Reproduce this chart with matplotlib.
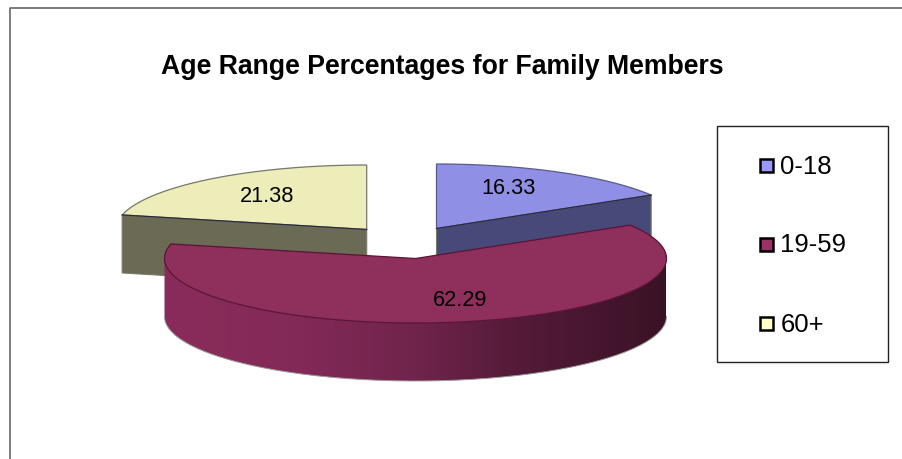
import numpy as np
import matplotlib
matplotlib.use('Agg')
import matplotlib.pyplot as plt
from matplotlib.patches import Polygon, Rectangle

plt.rcParams['font.family'] = ['Liberation Sans', 'DejaVu Sans']

# data
labels = ['0-18', '19-59', '60+']
values = [16.33, 62.29, 21.38]
value_text = ['16.33', '62.29', '21.38']

top_colors = ['#8f8fe6', '#8e2f5c', '#ecedb9']
side_colors = ['#474a78', '#5a1d3c', '#6b6b55']
edge_colors = ['#5a5a8c', '#5a1436', '#77776a']
legend_colors = ['#9999ff', '#993366', '#ffffcc']

# pie layout, in pixels
centers = [(436.5, 228.5), (415.5, 258.5), (366.7, 229.5)]
rx, ry = 251, 64.5
depth = 58
label_pos = [(508.5, 188.5), (460, 301), (267.5, 196)]

fig = plt.figure(figsize=(9.03, 4.59), dpi=100)
ax = fig.add_axes([0, 0, 1, 1])
ax.set_xlim(0, 903)
ax.set_ylim(459, 0)
ax.axis('off')

# outer frame, only left and top are inside the picture
ax.plot([10.5, 10.5, 903], [459, 8, 8], color='#666666', lw=1.2)


def arc(cx, cy, a0, a1):
    # angles clockwise from 12 o'clock, in degrees
    t = np.radians(np.linspace(a0, a1, 200))
    return np.column_stack([cx + rx * np.sin(t), cy - ry * np.cos(t)])


# wedge angles come from the values
ends = np.cumsum(values) / np.sum(values) * 360
starts = np.r_[0, ends[:-1]]


def cut_face(i, a):
    cx, cy = centers[i]
    tip = arc(cx, cy, a, a)[0]
    pts = [tip, (cx, cy), (cx, cy + depth), (tip[0], tip[1] + depth)]
    ax.add_patch(Polygon(pts, fc=side_colors[i], ec='#77776a', lw=0.8, zorder=2))
    # dark seam between the top and the cut face
    ax.plot([tip[0], cx], [tip[1], cy], color='#2a2a3a', lw=0.9, zorder=4)


def top_face(i, z):
    cx, cy = centers[i]
    pts = np.vstack([[(cx, cy)], arc(cx, cy, starts[i], ends[i])])
    ax.add_patch(Polygon(pts, fc=top_colors[i], ec=edge_colors[i], lw=0.9, zorder=z))


# back wedges
cut_face(0, ends[0])
cut_face(2, starts[2])
top_face(0, 3)
top_face(2, 3)

# front wedge outer wall with a horizontal shade
cx, cy = centers[1]
upper = arc(cx, cy, 90, 270)
lower = upper[::-1] + [0, depth]
wall = Polygon(np.vstack([upper, lower]), fc='none', ec='none', zorder=5)
ax.add_patch(wall)
ramp_x = [0.0, 0.25, 0.5, 0.7, 1.0]
ramp_r = [0x8a, 0x84, 0x70, 0x55, 0x3a]
ramp_g = [0x2c, 0x2a, 0x24, 0x1b, 0x12]
ramp_b = [0x5b, 0x58, 0x4c, 0x38, 0x26]
xs = np.linspace(0, 1, 256)
shade = np.column_stack([np.interp(xs, ramp_x, ramp_r),
                         np.interp(xs, ramp_x, ramp_g),
                         np.interp(xs, ramp_x, ramp_b)]) / 255
im = ax.imshow(shade[None, :, :], extent=[cx - rx, cx + rx, cy + ry + depth + 2, cy - 10],
               aspect='auto', zorder=5)
im.set_clip_path(wall)
ax.set_xlim(0, 903)
ax.set_ylim(459, 0)
ax.plot(lower[:, 0], lower[:, 1], color='#999999', lw=0.7, zorder=6)
top_face(1, 7)

# value labels
for t, (x, y) in zip(value_text, label_pos):
    ax.text(x, y, t, fontsize=15.7, ha='center', va='center', color='black', zorder=8)

ax.text(442, 67, 'Age Range Percentages for Family Members', fontsize=19.2,
        fontweight='bold', ha='center', va='center')

# legend
ax.add_patch(Rectangle((717, 125.5), 171, 236.5, fc='white', ec='#222222', lw=1.0, zorder=2))
for lab, c, y in zip(labels, legend_colors, [165, 244, 323]):
    ax.add_patch(Rectangle((760, y - 6.5), 13, 13, fc=c, ec='black', lw=1.8, zorder=3))
    ax.text(780.5, y + 1.5, lab, fontsize=18.5, ha='left', va='center', zorder=3)

fig.savefig('out.png', dpi=100)
